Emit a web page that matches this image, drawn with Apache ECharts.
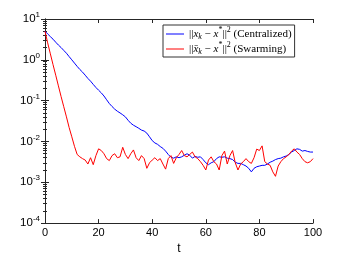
<!DOCTYPE html>
<html>
<head>
<meta charset="utf-8">
<script src="https://cdn.jsdelivr.net/npm/echarts@6/dist/echarts.min.js"></script>
<style>html,body{margin:0;padding:0;background:#fff}#c{width:346px;height:260px}</style>
</head>
<body>
<div id="c"></div>
<script>
var tValues = [];
for (var i = 0; i <= 100; i++) tValues.push(i);

var centralized = [
5.0,4.3,3.7,3.2,2.7,2.3,2.0,1.7,1.45,1.2,
1.0,0.83,0.69,0.58,0.50,0.42,0.35,0.30,0.25,0.21,
0.18,0.155,0.13,0.105,0.085,0.072,0.062,0.055,0.050,0.045,
0.040,0.033,0.028,0.025,0.023,0.021,0.019,0.018,0.016,0.013,
0.0105,0.0092,0.0085,0.0075,0.0068,0.0058,0.0048,0.0041,0.0039,0.0042,
0.0040,0.0042,0.0046,0.0050,0.0046,0.0039,0.0043,0.0041,0.0042,0.0036,
0.0030,0.0027,0.0030,0.0032,0.0038,0.0042,0.0041,0.0042,0.0039,0.0038,
0.0036,0.0031,0.0029,0.0029,0.0027,0.0025,0.0022,0.0018,0.0022,0.0024,
0.0025,0.0026,0.0026,0.0028,0.0031,0.0033,0.0036,0.0038,0.0039,0.0042,
0.0044,0.0048,0.0055,0.0060,0.0066,0.0064,0.0058,0.0060,0.0057,0.0055,
0.0055
];

var swarming = [
5.0,2.6,1.4,0.76,0.42,0.23,0.126,0.071,0.040,0.022,
0.013,0.0076,0.0048,0.0042,0.0038,0.0035,0.0028,0.0040,0.0027,0.0045,
0.0066,0.0060,0.0050,0.0038,0.0034,0.0045,0.0050,0.0040,0.0042,0.0072,
0.0048,0.0038,0.0050,0.0062,0.0040,0.0034,0.0045,0.0038,0.0022,0.0030,
0.0035,0.0040,0.0034,0.0038,0.0028,0.0021,0.0038,0.0045,0.0029,0.0040,
0.0048,0.0060,0.0045,0.0042,0.0048,0.0055,0.0042,0.0038,0.0032,0.0026,
0.0020,0.0035,0.0042,0.0032,0.0028,0.0020,0.0045,0.0058,0.0028,0.0045,
0.0060,0.0030,0.0020,0.0028,0.0032,0.0038,0.0032,0.0029,0.0040,0.0065,
0.0060,0.0078,0.0032,0.0028,0.0026,0.0018,0.0014,0.0025,0.0032,0.0038,
0.0042,0.0048,0.0058,0.0066,0.0055,0.0048,0.0038,0.0032,0.0030,0.0032,
0.0038
];

var xTicks = [0, 20, 40, 60, 80, 100];
var seriesNames = ['Centralized', 'Swarming'];
var xName = 't';

function pairs(ys) { return tValues.map(function (t, i) { return [t, ys[i]]; }); }

var chart = echarts.init(document.getElementById('c'), null, {renderer: 'canvas'});
var axisCol = '#262626';
var serif = 'Liberation Serif';
var legendRich = {
  n: {fontFamily: serif, fontSize: 11, color: '#000'},
  i: {fontFamily: serif, fontSize: 11, fontStyle: 'italic', color: '#000'},
  sb: {fontFamily: serif, fontSize: 8, fontStyle: 'italic', color: '#000', padding: [6, 0, 0, 0]},
  sp: {fontFamily: serif, fontSize: 8, color: '#000', padding: [0, 0, 8, 0]}
};

var option = {
  animation: false,
  backgroundColor: '#fff',
  grid: {left: 45, right: 33, top: 19, bottom: 30},
  legend: {
    data: seriesNames,
    orient: 'vertical',
    left: 163, top: 25,
    backgroundColor: '#fff',
    borderColor: '#333', borderWidth: 1,
    padding: [1, 3, 1, 3],
    itemGap: 0,
    icon: 'rect',
    itemWidth: 18, itemHeight: 1,
    formatter: function (name) {
      if (name === 'Centralized')
        return '{n|||}{i|x}{sb|k}{n| \u2212 }{i|x}{sp|*}{n|||}{sp|2}{n| (Centralized)}';
      return '{n|||}{i|x\u0304}{sb|k}{n| \u2212 }{i|x}{sp|*}{n|||}{sp|2}{n| (Swarming)}';
    },
    textStyle: {rich: legendRich}
  },
  xAxis: [{
    type: 'value', min: 0, max: 100, interval: 20,
    name: xName, nameLocation: 'middle', nameGap: 16,
    nameTextStyle: {fontFamily: 'Liberation Sans', fontSize: 12, color: '#000'},
    axisLine: {show: true, lineStyle: {color: axisCol}},
    axisTick: {inside: true, length: 4, lineStyle: {color: axisCol}},
    axisLabel: {fontFamily: 'Liberation Sans', fontSize: 11, color: '#000', margin: 4,
      formatter: function (v) { return xTicks.indexOf(v) >= 0 ? String(v) : ''; }},
    splitLine: {show: false}
  }, {
    type: 'value', min: 0, max: 100, interval: 20, position: 'top',
    axisLine: {show: true, lineStyle: {color: axisCol}},
    axisTick: {inside: true, length: 4, lineStyle: {color: axisCol}},
    axisLabel: {show: false}, splitLine: {show: false}
  }],
  yAxis: [{
    type: 'log', logBase: 10, min: 1e-4, max: 10,
    axisLine: {show: true, lineStyle: {color: axisCol}},
    axisTick: {inside: true, length: 4, lineStyle: {color: axisCol}},
    minorTick: {show: true, splitNumber: 9, length: 2, lineStyle: {color: axisCol}},
    axisLabel: {
      margin: 5, color: '#000',
      formatter: function (v) {
        var e = Math.round(Math.log(v) / Math.LN10);
        return '{b|10}{s|' + e + '}';
      },
      rich: {
        b: {fontFamily: 'Liberation Sans', fontSize: 11.5, color: '#000'},
        s: {fontFamily: 'Liberation Sans', fontSize: 8, color: '#000', padding: [0, 0, 8, 0]}
      }
    },
    splitLine: {show: false}
  }, {
    type: 'log', logBase: 10, min: 1e-4, max: 10, position: 'right',
    axisLine: {show: true, lineStyle: {color: axisCol}},
    axisTick: {inside: true, length: 4, lineStyle: {color: axisCol}},
    minorTick: {show: true, splitNumber: 9, length: 2, lineStyle: {color: axisCol}},
    axisLabel: {show: false}, splitLine: {show: false}
  }],
  series: [{
    name: seriesNames[0], type: 'line', data: pairs(centralized),
    xAxisIndex: 0, yAxisIndex: 0,
    symbol: 'none', color: '#0000ff',
    lineStyle: {width: 1, color: '#0000ff'}, z: 3
  }, {
    name: seriesNames[1], type: 'line', data: pairs(swarming),
    xAxisIndex: 0, yAxisIndex: 0,
    symbol: 'none', color: '#ff0000',
    lineStyle: {width: 1, color: '#ff0000'}, z: 4
  }]
};
chart.setOption(option);
</script>
</body>
</html>
